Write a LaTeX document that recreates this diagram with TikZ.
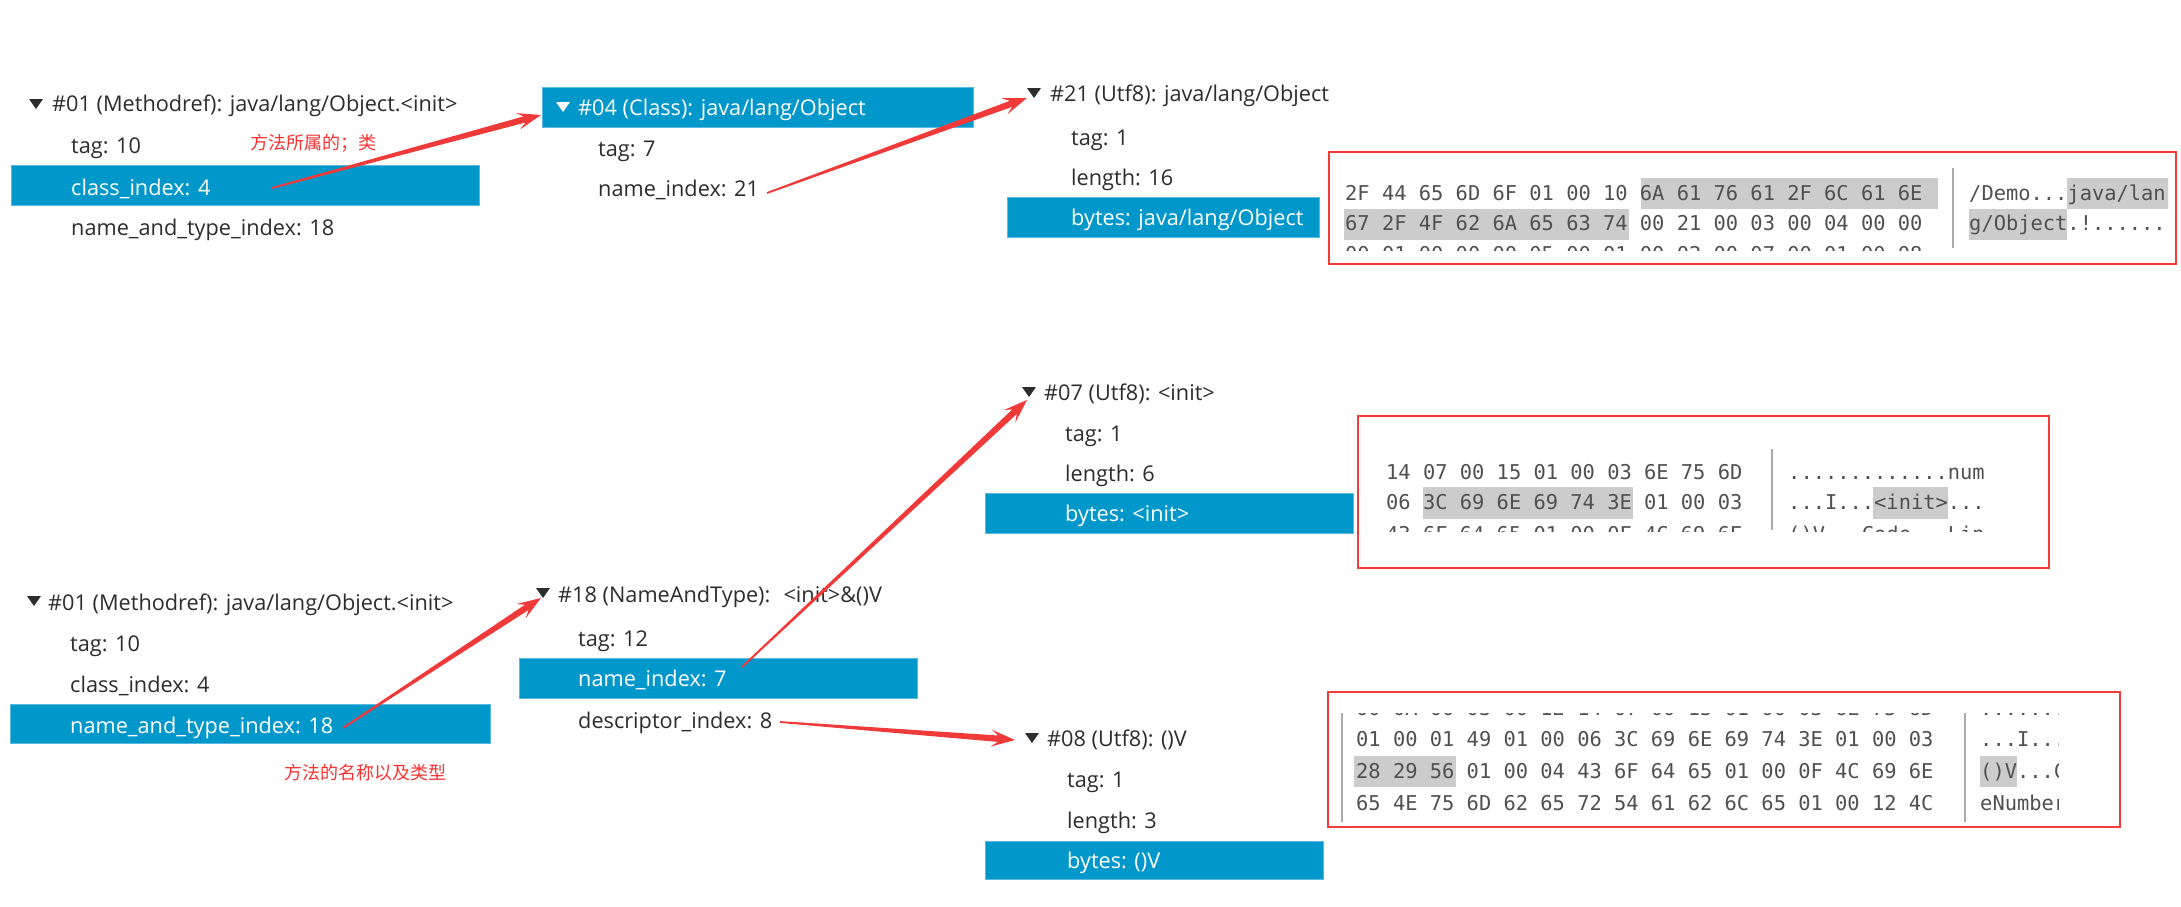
\documentclass[tikz,border=0pt]{standalone}
\usepackage{fontspec}
\setmainfont{Open Sans}
\newfontfamily\cjk{Noto Sans CJK SC}
\newfontfamily\hexfont{DejaVu Sans Mono}
\usetikzlibrary{calc}
\definecolor{barblue}{RGB}{0,151,203}
\definecolor{baredge}{RGB}{90,185,225}
\definecolor{txt}{RGB}{45,45,45}
\definecolor{arrowred}{RGB}{240,58,58}
\definecolor{boxred}{RGB}{242,60,60}
\definecolor{hexgray}{RGB}{80,80,80}
\definecolor{hilite}{RGB}{204,204,204}
\definecolor{sepgray}{RGB}{170,170,170}
\definecolor{labred}{RGB}{250,50,50}
\tikzset{
 lbl/.style={anchor=base west, inner sep=0pt, text=txt, font=\fontsize{21.7}{26}\selectfont},
 wlbl/.style={lbl, text=white},
 bar/.style={fill=barblue, draw=baredge, line width=1pt},
 tri/.style={fill=txt},
 wtri/.style={fill=white},
 hex/.style={anchor=base west, inner sep=0pt, text=hexgray, font=\hexfont\fontsize{20.4}{24}\selectfont},
 hl/.style={fill=hilite},
 sepline/.style={draw=sepgray, line width=2pt},
 hexbox/.style={draw=boxred, line width=2.5pt},
 note/.style={anchor=base west, inner sep=0pt, text=labred, font=\cjk\fontsize{18}{20}\selectfont},
}
\newcommand{\tarrow}[2]{%
 \coordinate (tA) at ($(#2)!24pt!(#1)$);
 \coordinate (tB) at ($(#2)!17pt!(#1)$);
 \fill[arrowred] ($(#1)!0.9pt!90:(#2)$) -- ($(tB)!3.2pt!-90:(#1)$) -- ($(tA)!8.5pt!-90:(#1)$) -- (#2) -- ($(tA)!8.5pt!90:(#1)$) -- ($(tB)!3.2pt!90:(#1)$) -- ($(#1)!0.9pt!-90:(#2)$) -- cycle;}
\newcommand{\tridown}[2]{\fill[#1, shift={#2}] (-7,-5) -- (7,-5) -- (0,5) -- cycle;}
\begin{document}
\begin{tikzpicture}[x=1pt,y=-1pt]
\useasboundingbox (0,0) rectangle (2181,907);
\fill[white] (0,0) rectangle (2181,907);

% ---------- top: #01 Methodref ----------
\tridown{tri}{(36,104)}
\node[lbl] (m1h) at (52,111) {\#01 (Methodref): java/lang/Object.<init>};
\node[lbl] (m1tag) at (71,153) {tag: 10};
\path[bar] (11,165) rectangle (479,205);
\node[wlbl] (m1cls) at (71,195) {class\_index: 4};
\node[lbl] (m1nt) at (71,235) {name\_and\_type\_index: 18};
\node[note] (lab1) at (250,149) {方法所属的；类};

% ---------- #04 Class ----------
\path[bar] (542,87) rectangle (973,127);
\tridown{wtri}{(563,107)}
\node[wlbl] (c4h) at (578,115) {\#04 (Class): java/lang/Object};
\node[lbl] (c4tag) at (598,156) {tag: 7};
\node[lbl] (c4ni) at (598,196) {name\_index: 21};

% ---------- #21 Utf8 ----------
\tridown{tri}{(1034,93)}
\node[lbl] (u21h) at (1050,101) {\#21 (Utf8): java/lang/Object};
\node[lbl] (u21tag) at (1071,145) {tag: 1};
\node[lbl] (u21len) at (1071,185) {length: 16};
\path[bar] (1007,197) rectangle (1319,237);
\node[wlbl] (u21b) at (1071,225) {bytes: java/lang/Object};

% ---------- hex box 1 ----------
\begin{scope}
\clip (1333,168) rectangle (2168,250);
\fill[hl] (1641,178) rectangle (1938,209);
\fill[hl] (1344,209) rectangle (1629,240);
\fill[hl] (2067,178) rectangle (2172,209);
\fill[hl] (1969,209) rectangle (2067,240);
\node[hex] (h1a) at (1345,200) {2F 44 65 6D 6F 01 00 10 6A 61 76 61 2F 6C 61 6E};
\node[hex] (h1b) at (1345,230) {67 2F 4F 62 6A 65 63 74 00 21 00 03 00 04 00 00};
\node[hex] (h1c) at (1345,261) {00 01 00 00 00 05 00 01 00 02 00 07 00 01 00 08};
\node[hex] (s1a) at (1969,200) {/Demo...java/lan};
\node[hex] (s1b) at (1969,230) {g/Object.!......};
\end{scope}
\draw[sepline] (1953,168) -- (1953,248);
\draw[hexbox] (1329,152) rectangle (2176,264);

% ---------- bottom: #01 Methodref ----------
\tridown{tri}{(34,601)}
\node[lbl] (n1h) at (48,610) {\#01 (Methodref): java/lang/Object.<init>};
\node[lbl] (n1tag) at (70,651) {tag: 10};
\node[lbl] (n1cls) at (70,692) {class\_index: 4};
\path[bar] (10,704) rectangle (490,743);
\node[wlbl] (n1nt) at (70,733) {name\_and\_type\_index: 18};
\node[note] (lab2) at (284,779) {方法的名称以及类型};

% ---------- #18 NameAndType ----------
\tridown{tri}{(543,593)}
\node[lbl] (n18h) at (558,602) {\#18 (NameAndType): \ <init>\&()V};
\node[lbl] (n18tag) at (578,646) {tag: 12};
\path[bar] (519,658) rectangle (917,698);
\node[wlbl] (n18ni) at (578,686) {name\_index: 7};
\node[lbl] (n18di) at (578,728) {descriptor\_index: 8};

% ---------- #07 Utf8 ----------
\tridown{tri}{(1029,392)}
\node[lbl] (u7h) at (1044,400) {\#07 (Utf8): <init>};
\node[lbl] (u7tag) at (1065,441) {tag: 1};
\node[lbl] (u7len) at (1065,481) {length: 6};
\path[bar] (985,493) rectangle (1353,533);
\node[wlbl] (u7b) at (1065,521) {bytes: <init>};

% ---------- hex box 2 ----------
\begin{scope}
\clip (1365,449) rectangle (2040,531);
\fill[hl] (1423,487) rectangle (1633,519);
\fill[hl] (1873,487) rectangle (1948,519);
\node[hex] (h2a) at (1386,479) {14 07 00 15 01 00 03 6E 75 6D};
\node[hex] (h2b) at (1386,509) {06 3C 69 6E 69 74 3E 01 00 03};
\node[hex] (h2c) at (1386,541) {43 6F 64 65 01 00 0F 4C 69 6E};
\node[hex] (s2a) at (1788,479) {.............num};
\node[hex] (s2b) at (1788,509) {...I...<init>...};
\node[hex] (s2c) at (1788,541) {()V...Code...Lin};
\end{scope}
\draw[sepline] (1772,449) -- (1772,530);
\draw[hexbox] (1358,416) rectangle (2049,568);

% ---------- #08 Utf8 ----------
\tridown{tri}{(1032,738)}
\node[lbl] (u8h) at (1047,746) {\#08 (Utf8): ()V};
\node[lbl] (u8tag) at (1067,787) {tag: 1};
\node[lbl] (u8len) at (1067,828) {length: 3};
\path[bar] (985,841) rectangle (1323,879);
\node[wlbl] (u8b) at (1067,868) {bytes: ()V};

% ---------- hex box 3 ----------
\begin{scope}
\clip (1344,713) rectangle (2058,822);
\fill[hl] (1354,756) rectangle (1456,787);
\fill[hl] (1980,756) rectangle (2017,787);
\node[hex] (h3z) at (1356,715) {00 0A 00 03 00 12 14 07 00 15 01 00 03 6E 75 6D};
\node[hex] (h3a) at (1356,746) {01 00 01 49 01 00 06 3C 69 6E 69 74 3E 01 00 03};
\node[hex] (h3b) at (1356,778) {28 29 56 01 00 04 43 6F 64 65 01 00 0F 4C 69 6E};
\node[hex] (h3c) at (1356,810) {65 4E 75 6D 62 65 72 54 61 62 6C 65 01 00 12 4C};
\node[hex] (s3z) at (1980,715) {.............num};
\node[hex] (s3a) at (1980,746) {...I...<init>...};
\node[hex] (s3b) at (1980,778) {()V...Code...Lin};
\node[hex] (s3c) at (1980,810) {eNumberTable...L};
\end{scope}
\draw[sepline] (1342,713) -- (1342,822);
\draw[sepline] (1965,713) -- (1965,822);
\draw[hexbox] (1328,692) rectangle (2120,827);

% ---------- arrows ----------
\coordinate (a1s) at (272,188); \coordinate (a1e) at (541,115);
\coordinate (a2s) at (767,193); \coordinate (a2e) at (1027,98);
\coordinate (a3s) at (343,728); \coordinate (a3e) at (541,598);
\coordinate (a4s) at (742,667); \coordinate (a4e) at (1027,400);
\coordinate (a5s) at (780,722); \coordinate (a5e) at (1015,740);
\tarrow{a1s}{a1e}
\tarrow{a2s}{a2e}
\tarrow{a3s}{a3e}
\tarrow{a4s}{a4e}
\tarrow{a5s}{a5e}
\end{tikzpicture}
\end{document}
